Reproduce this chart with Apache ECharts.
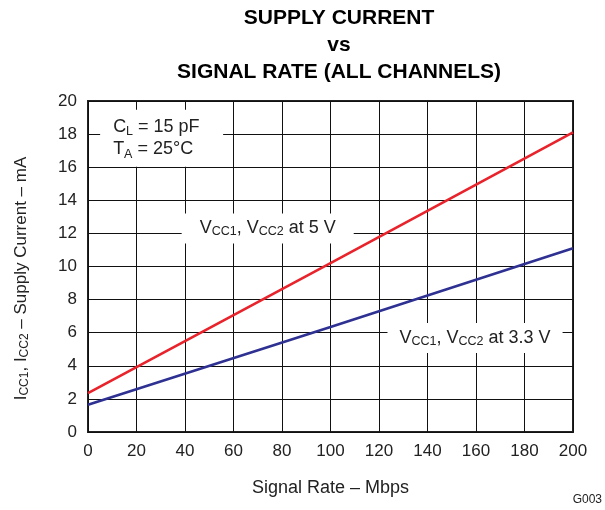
<!DOCTYPE html>
<html>
<head>
<meta charset="utf-8">
<script src="https://cdn.jsdelivr.net/npm/echarts@6/dist/echarts.min.js"></script>
<style>
  html, body { margin: 0; padding: 0; background: #fff; }
  #chart { width: 605px; height: 510px; }
</style>
</head>
<body>
<div id="chart"></div>
<script>
// Signal rate (Mbps) and supply current (mA) for both supply voltages
const signalRate = [0, 100, 200];
const iccAt5V = [2.35, 10.2, 18.1];
const iccAt3V3 = [1.65, 6.35, 11.1];

const xTicks = { min: 0, max: 200, step: 20 };
const yTicks = { min: 0, max: 20, step: 2 };

// Annotation anchors in data units [rate, current]
const noteConditions = [5, 17.75];
const note5V = [74.1, 12.3];
const note3V3 = [159.6, 5.68];

const FONT = '"Liberation Sans", Arial, Helvetica, sans-serif';
const INK = '#222';

const subRich = {
  m: { fontSize: 18, fontFamily: FONT, color: INK, lineHeight: 20, verticalAlign: 'middle' },
  s: { fontSize: 12.5, fontFamily: FONT, color: INK, lineHeight: 12, verticalAlign: 'bottom' }
};

const chart = echarts.init(document.getElementById('chart'), null, { renderer: 'canvas' });

chart.setOption({
  animation: false,
  backgroundColor: '#fff',
  title: {
    text: 'SUPPLY CURRENT\nvs\nSIGNAL RATE (ALL CHANNELS)',
    left: 334,
    textAlign: 'center',
    top: 0,
    textStyle: { fontFamily: FONT, fontWeight: 'bold', fontSize: 21, color: '#000', lineHeight: 27 }
  },
  grid: {
    left: 88, right: 32, top: 101, bottom: 78,
    show: true, borderColor: INK, borderWidth: 2, backgroundColor: 'transparent'
  },
  xAxis: {
    type: 'value',
    min: xTicks.min, max: xTicks.max, interval: xTicks.step,
    name: 'Signal Rate – Mbps',
    nameLocation: 'middle',
    nameGap: 47,
    nameTextStyle: { fontFamily: FONT, fontSize: 18, color: INK },
    axisLine: { show: false },
    axisTick: { show: false },
    axisLabel: { fontFamily: FONT, fontSize: 17, color: INK, margin: 11 },
    splitLine: { show: true, lineStyle: { color: '#111', width: 1 } }
  },
  yAxis: {
    type: 'value',
    min: yTicks.min, max: yTicks.max, interval: yTicks.step,
    name: '{m|I}{s|CC1}{m|, I}{s|CC2}{m| – Supply Current – mA}',
    nameLocation: 'middle',
    nameRotate: 90,
    nameGap: 57,
    nameTextStyle: {
      padding: [0, 24, 0, 0],
      rich: {
        m: { fontSize: 17, fontFamily: FONT, color: INK, lineHeight: 20, verticalAlign: 'middle' },
        s: { fontSize: 12, fontFamily: FONT, color: INK, lineHeight: 11, verticalAlign: 'bottom' }
      }
    },
    axisLine: { show: false },
    axisTick: { show: false },
    axisLabel: { fontFamily: FONT, fontSize: 17, color: INK, margin: 11 },
    splitLine: { show: true, lineStyle: { color: '#111', width: 1 } }
  },
  series: [
    {
      name: 'VCC at 5 V',
      type: 'line',
      data: signalRate.map((r, i) => [r, iccAt5V[i]]),
      showSymbol: false,
      lineStyle: { color: '#e8232b', width: 2.6 },
      z: 3
    },
    {
      name: 'VCC at 3.3 V',
      type: 'line',
      data: signalRate.map((r, i) => [r, iccAt3V3[i]]),
      showSymbol: false,
      lineStyle: { color: '#2e3192', width: 2.6 },
      z: 3
    },
    {
      name: 'notes',
      type: 'scatter',
      symbolSize: 0,
      silent: true,
      z: 4,
      itemStyle: { opacity: 1 },
      emphasis: { disabled: true },
      data: [
        {
          value: noteConditions,
          label: {
            show: true, position: 'inside',
            formatter: '{m|C}{s|L}{m| = 15 pF}\n{m|T}{s|A}{m| = 25°C}',
            backgroundColor: '#fff',
            padding: [6, 10, 6, 13],
            align: 'left',
            width: 100, height: 45,
            opacity: 1,
            rich: {
              m: { fontSize: 18, fontFamily: FONT, color: INK, lineHeight: 22.5, verticalAlign: 'middle' },
              s: { fontSize: 12.5, fontFamily: FONT, color: INK, lineHeight: 12, verticalAlign: 'bottom' }
            }
          }
        },
        {
          value: note5V,
          label: {
            show: true, position: 'inside',
            formatter: '{m|V}{s|CC1}{m|, V}{s|CC2}{m| at 5 V}',
            backgroundColor: '#fff',
            padding: [5, 18, 5, 18],
            opacity: 1,
            rich: subRich
          }
        },
        {
          value: note3V3,
          label: {
            show: true, position: 'inside',
            formatter: '{m|V}{s|CC1}{m|, V}{s|CC2}{m| at 3.3 V}',
            backgroundColor: '#fff',
            padding: [5, 12, 5, 12],
            opacity: 1,
            rich: subRich
          }
        }
      ]
    }
  ],
  graphic: [
    {
      type: 'text',
      right: 3, top: 494,
      style: { text: 'G003', fontFamily: FONT, fontSize: 12, fill: INK }
    }
  ]
});
</script>
</body>
</html>
